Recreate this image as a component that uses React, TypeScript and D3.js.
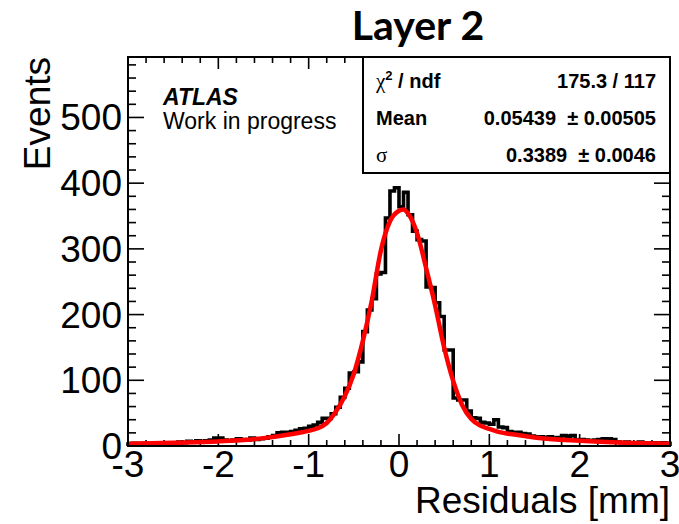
import React from "react";
import * as d3 from "d3";

// histogram: 120 bins of 0.05 mm from -3 to 3
const binLow = -3;
const binWidth = 0.05;
const binCounts = [
  3, 4, 3, 4, 3, 3, 4, 4, 3, 5,
  5, 6, 5, 7, 6, 8, 7, 8, 9, 12,
  12, 9, 8, 9, 11, 10, 9, 12, 10, 11,
  12, 14, 16, 20, 21, 21, 22, 24, 26, 27,
  30, 32, 36, 42, 42, 49, 59, 74, 88, 111,
  113, 128, 174, 207, 224, 262, 264, 347, 388, 393,
  364, 386, 352, 327, 314, 312, 242, 241, 218, 197,
  146, 146, 73, 70, 70, 53, 43, 42, 36, 35,
  33, 40, 29, 28, 22, 21, 21, 19, 18, 15,
  14, 14, 13, 14, 12, 13, 16, 15, 16, 9,
  10, 9, 8, 9, 10, 11, 11, 10, 6, 5,
  6, 5, 4, 6, 5, 4, 5, 4, 5, 4,
];

// fitted curve
const fitX = [-3, -2.5, -2, -1.5, -1.2, -1, -0.9, -0.8, -0.7, -0.6, -0.5, -0.4, -0.3, -0.2, -0.1, 0, 0.05, 0.1, 0.2, 0.3, 0.4, 0.5, 0.6, 0.7, 0.8, 0.9, 1, 1.1, 1.3, 1.5, 2, 2.5, 3];
const fitY = [3.5, 5, 7, 12, 18, 23, 27, 35, 52, 76, 110, 160, 222, 298, 342, 358, 360, 354, 324, 271, 214, 150, 99, 62, 41, 31, 26, 21.5, 17, 13, 8, 5, 3.5];

const xTicks = [-3, -2, -1, 0, 1, 2, 3];
const yTicks = [0, 100, 200, 300, 400, 500];
const statNames = ["ndf", "Mean", "σ"];
const statValues = ["175.3 / 117", "0.05439 \u00a0±\u00a00.00505", "0.3389 \u00a0±\u00a00.0046"];

const W = 679;
const H = 524;
const frame = { left: 128, right: 670, top: 57, bottom: 446 };
const sans = "'Liberation Sans', Arial, Helvetica, sans-serif";

export default function App() {
  const x = d3.scaleLinear().domain([-3, 3]).range([frame.left, frame.right]);
  const y = d3.scaleLinear().domain([0, 592]).range([frame.bottom, frame.top]);

  const histPts: [number, number][] = [[binLow, 0]];
  binCounts.forEach((c, i) => histPts.push([binLow + i * binWidth, c]));
  histPts.push([binLow + binCounts.length * binWidth, binCounts[binCounts.length - 1]]);
  histPts.push([binLow + binCounts.length * binWidth, 0]);
  const histLine = d3
    .line<[number, number]>()
    .x((d) => x(d[0]))
    .y((d) => y(d[1]))
    .curve(d3.curveStepAfter);

  const fitLine = d3
    .line<number>()
    .x((d) => x(d))
    .y((d, i) => y(fitY[i]))
    .curve(d3.curveMonotoneX);

  const xMinor = d3.range(-3, 3.001, 0.2).map((v) => +v.toFixed(2));
  const yMinor = d3.range(0, 592, 20);

  const box = { left: 363, right: frame.right, top: frame.top, bottom: 173 };
  const rowY = [88, 125, 162];

  return (
    <div style={{ position: "fixed", left: 0, top: 0 }}>
      <svg width={W} height={H} style={{ display: "block", background: "#fff" }}>
        <text x={418} y={40} textAnchor="middle" fontFamily="Lato, 'Open Sans', sans-serif" fontWeight={700} fontSize={41}>
          Layer 2
        </text>

        {/* ticks, bottom & top */}
        {xMinor.map((v) => {
          const major = Math.abs(v - Math.round(v)) < 1e-6;
          const len = major ? 12 : 6;
          return (
            <g key={"xt" + v} stroke="#000" strokeWidth={1.6}>
              <line x1={x(v)} x2={x(v)} y1={frame.bottom} y2={frame.bottom - len} />
              <line x1={x(v)} x2={x(v)} y1={frame.top} y2={frame.top + len} />
            </g>
          );
        })}
        {yMinor.map((v) => {
          const major = v % 100 === 0;
          const len = major ? 16 : 8;
          return (
            <g key={"yt" + v} stroke="#000" strokeWidth={1.6}>
              <line x1={frame.left} x2={frame.left + len} y1={y(v)} y2={y(v)} />
              <line x1={frame.right} x2={frame.right - len} y1={y(v)} y2={y(v)} />
            </g>
          );
        })}

        <path d={histLine(histPts) || ""} fill="none" stroke="#000" strokeWidth={3.6} strokeLinejoin="miter" />
        <path d={fitLine(fitX) || ""} fill="none" stroke="#ff0000" strokeWidth={4.5} />

        <rect
          x={frame.left}
          y={frame.top}
          width={frame.right - frame.left}
          height={frame.bottom - frame.top}
          fill="none"
          stroke="#000"
          strokeWidth={2}
        />

        {/* tick labels */}
        {xTicks.map((v) => (
          <text key={"xl" + v} x={x(v)} y={477} textAnchor="middle" fontFamily={sans} fontSize={37}>
            {v}
          </text>
        ))}
        {yTicks.map((v) => (
          <text key={"yl" + v} x={122} y={y(v) + 13} textAnchor="end" fontFamily={sans} fontSize={37}>
            {v}
          </text>
        ))}

        <text x={frame.right} y={513} textAnchor="end" fontFamily={sans} fontSize={37}>
          Residuals [mm]
        </text>
        <text transform={`translate(50,${frame.top}) rotate(-90)`} textAnchor="end" fontFamily={sans} fontSize={37}>
          Events
        </text>

        <text x={163} y={105} fontFamily={sans} fontSize={23} fontWeight={700} fontStyle="italic">
          ATLAS
        </text>
        <text x={163} y={129} fontFamily={sans} fontSize={23}>
          Work in progress
        </text>

        {/* fit statistics */}
        <rect x={box.left} y={box.top} width={box.right - box.left} height={box.bottom - box.top} fill="#fff" stroke="#000" strokeWidth={2} />
        {statNames.map((name, i) => (
          <g key={"st" + i} fontFamily={sans} fontSize={20} fontWeight={700}>
            {i === 0 ? (
              <text x={376} y={rowY[i]}>
                <tspan fontFamily="'Liberation Serif', serif" fontWeight={400} fontSize={21}>χ</tspan>
                <tspan dy={-8} fontSize={13}>2</tspan>
                <tspan dy={8}>{" / " + name}</tspan>
              </text>
            ) : i === 2 ? (
              <text x={376} y={rowY[i]} fontFamily="'Liberation Serif', serif" fontWeight={400} fontSize={21}>
                {name}
              </text>
            ) : (
              <text x={376} y={rowY[i]}>{name}</text>
            )}
            <text x={656} y={rowY[i]} textAnchor="end">
              {statValues[i]}
            </text>
          </g>
        ))}
      </svg>
    </div>
  );
}
